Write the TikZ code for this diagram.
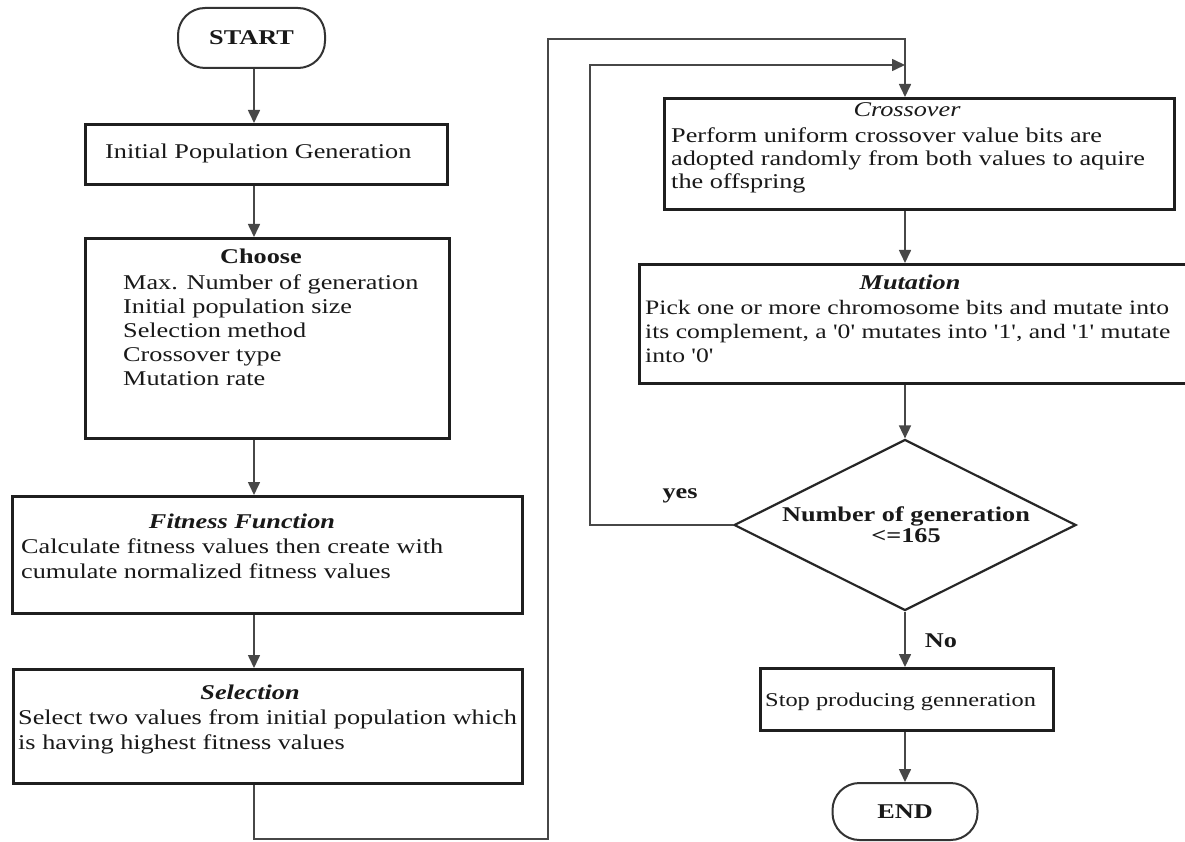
\documentclass[tikz,border=0pt]{standalone}
\usepackage{fontspec}
\setmainfont{Liberation Serif}[FakeStretch=1.25,Ligatures=TeXOff]
\usetikzlibrary{shapes.geometric,arrows.meta,calc}
\begin{document}
\begin{tikzpicture}[x=1pt,y=-1pt,
  every node/.style={font=\fontsize{21pt}{24pt}\selectfont, text=black!90},
  box/.style={draw=black!88, line width=2.6pt, rectangle, inner sep=0pt, anchor=north west},
  term/.style={draw=black!80, line width=2pt, rectangle, rounded corners=27pt, inner sep=0pt, font=\fontsize{21pt}{24pt}\selectfont\bfseries},
  decis/.style={draw=black!85, line width=2.2pt, diamond, inner sep=0pt},
  conn/.style={draw=black!72, line width=1.6pt},
  arr/.style={conn, -{Triangle[width=12pt,length=13pt]}},
  ln/.style={inner sep=0pt, anchor=base west},
  mln/.style={inner sep=0pt, anchor=base west, font=\fontsize{20.5pt}{24pt}\selectfont},
  ttl/.style={inner sep=0pt, anchor=base, font=\fontsize{21pt}{24pt}\selectfont\itshape},
  bttl/.style={inner sep=0pt, anchor=base, font=\fontsize{21pt}{24pt}\selectfont\bfseries\itshape},
  lbl/.style={inner sep=0pt, anchor=base, font=\fontsize{21pt}{24pt}\selectfont\bfseries}
]
\useasboundingbox (0,0) rectangle (1185,842);
\fill[white] (0,0) rectangle (1185,842);
\clip (0,0) rectangle (1185,842);

% left column
\node[term, minimum width=147pt, minimum height=60pt] (start) at (251.5,38) {START};

\node[box, minimum width=362pt, minimum height=60pt] (init) at (84,123) {};
\node[ln] (initT) at (105,159) {Initial Population Generation};

\node[box, minimum width=364pt, minimum height=200pt] (choose) at (84,237) {};
\node[lbl] (chooseT) at (261,264) {Choose};
\node[ln] (cho1) at (123,289) {Max. Number of generation};
\node[ln] (cho2) at (123,313) {Initial population size};
\node[ln] (cho3) at (123,337) {Selection method};
\node[ln] (cho4) at (123,361) {Crossover type};
\node[ln] (cho5) at (123,385) {Mutation rate};

\node[box, minimum width=510pt, minimum height=117pt] (fit) at (11,495) {};
\node[bttl] (fitT) at (242,528) {Fitness Function};
\node[ln] (fit1) at (21,553) {Calculate fitness values then create with};
\node[ln] (fit2) at (21,578) {cumulate normalized fitness values};

\node[box, minimum width=509pt, minimum height=114pt] (sel) at (12,668) {};
\node[bttl] (selT) at (250,699) {Selection};
\node[ln] (sel1) at (18,724) {Select two values from initial population which};
\node[ln] (sel2) at (18,749) {is having highest fitness values};

% right column
\node[box, minimum width=510pt, minimum height=111pt] (cross) at (663,97) {};
\node[ttl] (crossT) at (907,117) {Crossover};
\node[ln] (cro1) at (671,143) {Perform uniform crossover value bits are};
\node[ln] (cro2) at (671,166) {adopted randomly from both values to aquire};
\node[ln] (cro3) at (671,189) {the offspring};

\node[box, minimum width=556pt, minimum height=119pt] (mut) at (638,263) {};
\node[bttl] (mutT) at (910,289) {Mutation};
\node[mln] (mut1) at (645,314) {Pick one or more chromosome bits and mutate into};
\node[mln] (mut2) at (645,338) {its complement, a '0' mutates into '1', and '1' mutate};
\node[mln] (mut3) at (645,362) {into '0'};

\node[decis, minimum width=342pt, minimum height=171pt] (dec) at (905,525) {};
\node[lbl] (decT1) at (906,521) {Number of generation};
\node[lbl] (decT2) at (906,542) {<=165};

\node[box, minimum width=293pt, minimum height=62pt] (stop) at (759,667) {};
\node[ln, font=\fontsize{19.5pt}{24pt}\selectfont] (stopT) at (765,706) {Stop producing genneration};

\node[term, minimum width=145pt, minimum height=57pt] (end) at (905,811.5) {END};

\node[lbl] (yes) at (680,498) {yes};
\node[lbl] (no) at (941,647) {No};

% connectors
\coordinate (colL) at (254,0);
\coordinate (colR) at (905,0);
\coordinate (lb) at (548,839);
\coordinate (lt) at (548,39);
\coordinate (yl) at (590,65);
\coordinate (yend) at (905,65);

\draw[arr] (start.south -| colL) -- (init.north -| colL);
\draw[arr] (init.south -| colL) -- (choose.north -| colL);
\draw[arr] (choose.south -| colL) -- (fit.north -| colL);
\draw[arr] (fit.south -| colL) -- (sel.north -| colL);
\draw[arr] (sel.south -| colL) |- (lb) -- (lt) -| (cross.north -| colR);
\draw[arr] (cross.south -| colR) -- (mut.north -| colR);
\draw[arr] (mut.south -| colR) -- (dec.north);
\draw[arr] (dec.west) -| (yl) -- (yend);
\draw[arr] (dec.south) -- (stop.north -| dec.south);
\draw[arr] (stop.south -| dec.south) -- (end.north);
\end{tikzpicture}
\end{document}
